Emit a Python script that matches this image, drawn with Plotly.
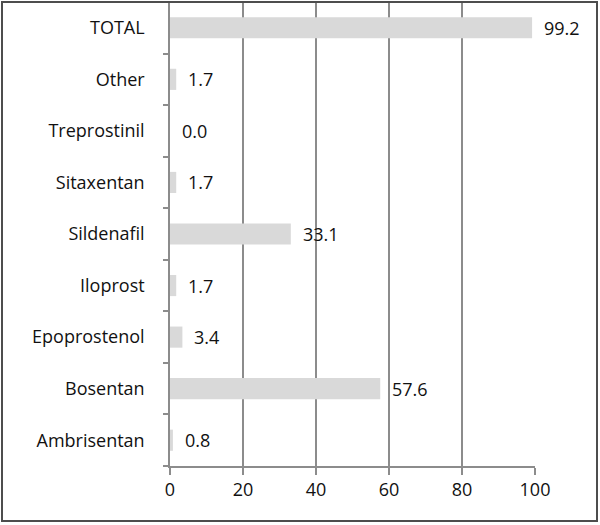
import plotly.graph_objects as go

categories = ["Ambrisentan", "Bosentan", "Epoprostenol", "Iloprost", "Sildenafil",
              "Sitaxentan", "Treprostinil", "Other", "TOTAL"]
values = [0.8, 57.6, 3.4, 1.7, 33.1, 1.7, 0.0, 1.7, 99.2]
x_ticks = [0, 20, 40, 60, 80, 100]

W, H = 600, 525
ml, mr, mt, mb = 170, 65, 2, 59
pw, ph = W - ml - mr, H - mt - mb
FONT = "Open Sans"
FS = 18

fig = go.Figure()
fig.add_trace(go.Bar(
    y=categories, x=values, orientation="h",
    marker=dict(color="#d9d9d9", line=dict(width=0)),
    width=0.41, hoverinfo="skip",
))
for c, v in zip(categories, values):
    fig.add_annotation(x=v, y=c, xref="x", yref="y", text=f"{v:.1f}",
                       showarrow=False, xanchor="left", yanchor="middle",
                       xshift=10, font=dict(family=FONT, size=FS, color="#111111"))

def px_x(p):
    return (p - ml) / pw

def px_y(p):
    return (H - mb - p) / ph

fig.add_shape(type="rect", xref="paper", yref="paper",
              x0=px_x(2), x1=px_x(597), y0=px_y(521), y1=px_y(2),
              line=dict(color="#4d4d4d", width=2), layer="above")

fig.update_layout(
    width=W, height=H,
    margin=dict(l=ml, r=mr, t=mt, b=mb, autoexpand=False),
    paper_bgcolor="white", plot_bgcolor="white",
    showlegend=False,
    font=dict(family=FONT, size=FS, color="#111111"),
    xaxis=dict(range=[0, 100], tickvals=x_ticks, showgrid=True, automargin=False,
               gridcolor="#8c8c8c", gridwidth=1.5, zeroline=False,
               showline=True, linecolor="#8c8c8c", linewidth=1.5,
               ticks="outside", ticklen=7, tickcolor="#8c8c8c", tickwidth=1.5,
               tickfont=dict(family=FONT, size=FS, color="#111111")),
    yaxis=dict(categoryorder="array", categoryarray=categories, automargin=False,
               showgrid=False, zeroline=False,
               showline=True, linecolor="#8c8c8c", linewidth=1.5,
               ticks="outside", ticklen=5, tickcolor="#8c8c8c", tickwidth=1.5,
               tickson="boundaries", ticklabelstandoff=20,
               tickfont=dict(family=FONT, size=FS, color="#111111")),
)

fig.write_html("out.html", config={"displayModeBar": False},
               post_script="document.body.style.margin='0';")
